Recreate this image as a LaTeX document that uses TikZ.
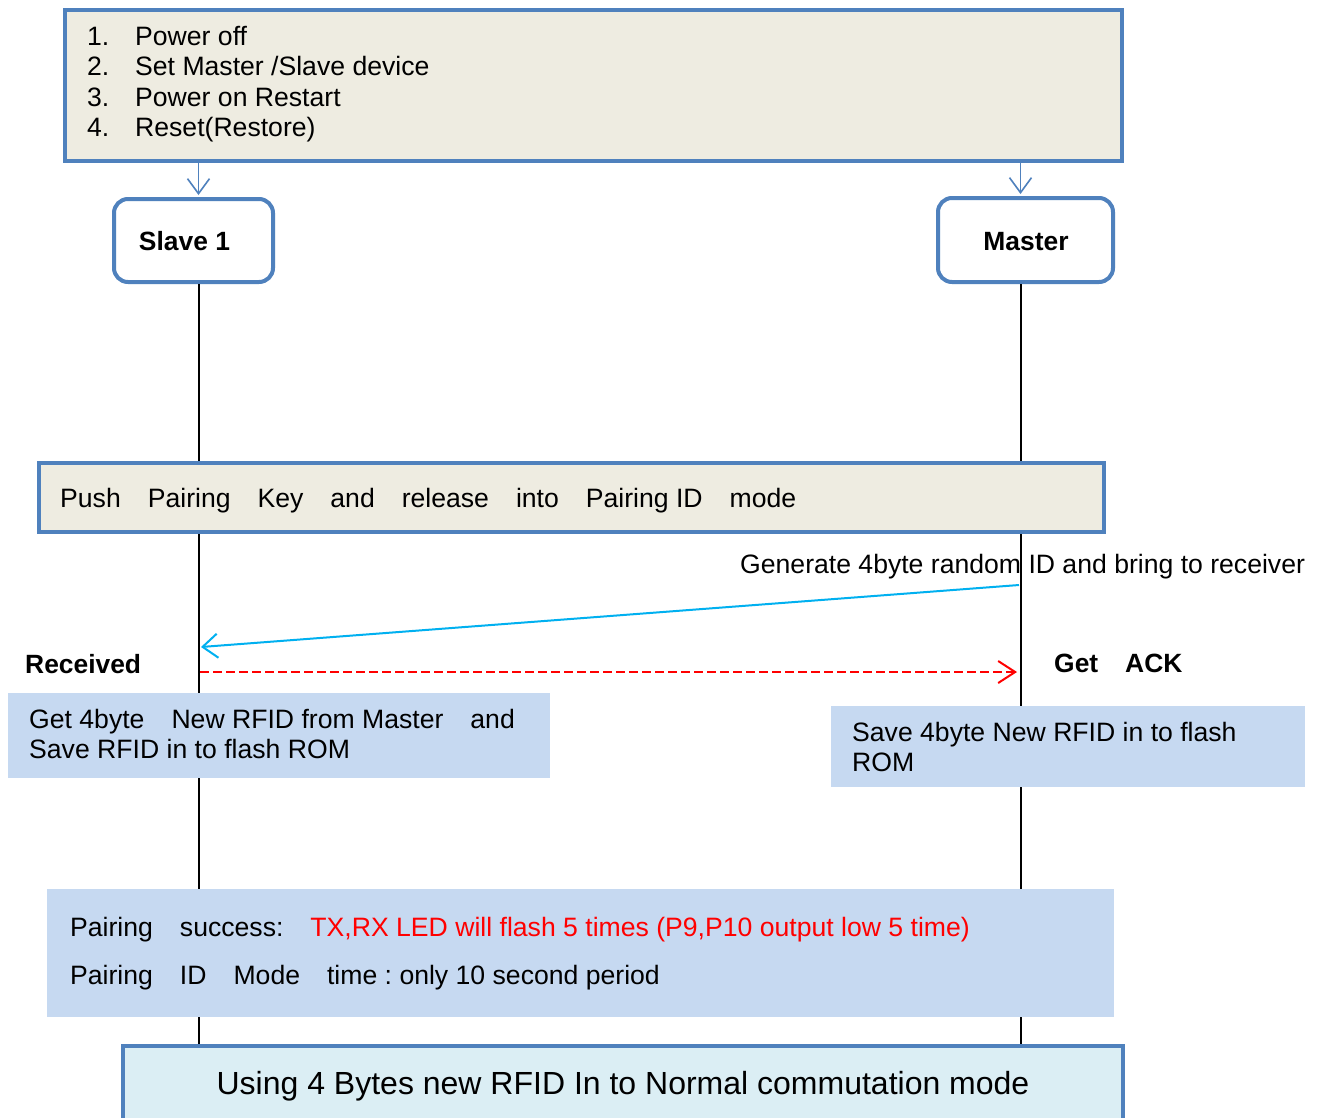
\documentclass[tikz,border=0pt]{standalone}
\usepackage{fontspec}
\setmainfont{Liberation Sans}
\usetikzlibrary{arrows.meta}
\definecolor{bord}{HTML}{4F81BD}
\definecolor{beige}{HTML}{EEECE1}
\definecolor{lblue}{HTML}{C6D9F1}
\definecolor{aquafill}{HTML}{DBEEF4}
\definecolor{cyanarr}{HTML}{00B0F0}
\newcommand{\wgap}{\hspace{27pt}}
\frenchspacing
\begin{document}
\begin{tikzpicture}[x=1pt,y=-1pt,
  txt/.style={inner sep=0pt, anchor=base west, font=\fontsize{26.6}{30}\selectfont},
  btxt/.style={inner sep=0pt, anchor=base west, font=\fontsize{26.4}{30}\selectfont\bfseries},
  beigebox/.style={draw=bord, fill=beige, line width=4pt, inner sep=0pt},
  rbox/.style={draw=bord, fill=white, line width=4pt, rounded corners=14pt, inner sep=0pt},
  fillbox/.style={fill=lblue, inner sep=0pt},
  lifeline/.style={line width=2pt, black},
  downarr/.style={draw=bord, line width=1.6pt, -{Straight Barb[length=15pt,width=22pt,line width=1.6pt]}},
  msgarr/.style={draw=cyanarr, line width=2pt, -{Straight Barb[length=15pt,width=24pt,line width=2pt]}},
  ackarr/.style={draw=red, line width=2pt, dash pattern=on 9pt off 4pt, -{Straight Barb[length=17pt,width=22pt,line width=2pt]}}
]
\clip (0,0) rectangle (1322,1117);
\fill[white] (0,0) rectangle (1322,1117);

% coordinates for lifelines
\coordinate (sx) at (198.5,0);
\coordinate (mx) at (1020.5,0);

% boxes
\node[beigebox, minimum width=1057pt, minimum height=151pt] (top) at (593.5,85.5) {};
\node[rbox, minimum width=159pt, minimum height=83pt] (slave) at (193.5,240.5) {};
\node[rbox, minimum width=175pt, minimum height=84pt] (master) at (1025.5,240) {};
\node[draw=bord, fill=aquafill, line width=4pt, inner sep=0pt, minimum width=1000pt, minimum height=100pt] (bottom) at (623,1096) {};

% lifelines
\draw[lifeline] (slave.south -| sx) -- (bottom.north -| sx);
\draw[lifeline] (master.south -| mx) -- (bottom.north -| mx);

% top arrows
\draw[downarr, shorten >=2pt] (top.south -| sx) -- (slave.north -| sx);
\draw[downarr, shorten >=2pt] (top.south -| mx) -- (master.north -| mx);

% top list
\node[txt] (l1) at (87,45.3) {\makebox[48pt][l]{1.}Power off};
\node[txt] (l2) at (87,75.8) {\makebox[48pt][l]{2.}Set Master /Slave device};
\node[txt] (l3) at (87,106.3) {\makebox[48pt][l]{3.}Power on Restart};
\node[txt] (l4) at (87,136.8) {\makebox[48pt][l]{4.}Reset(Restore)};

% lifeline headers
\node[btxt, anchor=base] (slavelbl) at (184.5,250.5) {Slave 1};
\node[btxt, anchor=base] (masterlbl) at (1026,250.5) {Master};

% push box
\node[beigebox, minimum width=1065pt, minimum height=69pt] (push) at (571.5,497.5) {};
\node[txt] (pushlbl) at (60,507) {Push\wgap Pairing\wgap Key\wgap and\wgap release\wgap into\wgap Pairing ID\wgap mode};

% generate message
\node[txt] (genlbl) at (740,573.5) {Generate 4byte random ID and bring to receiver};
\coordinate (g1) at (1019,585);
\coordinate (g2) at (201,647);
\draw[msgarr] (g1) -- (g2);

% ack
\node[btxt] (recv) at (25,673.5) {Received};
\coordinate (r1) at (200,672);
\coordinate (r2) at (1017,672);
\draw[ackarr] (r1) -- (r2);
\node[btxt] (getack) at (1054,672.5) {Get\wgap ACK};

% slave save box
\node[fillbox, minimum width=542pt, minimum height=85pt] (slavesave) at (279,735.5) {};
\node[txt] (ss1) at (29,728.5) {Get 4byte\wgap New RFID from Master\wgap and};
\node[txt] (ss2) at (29,758.5) {Save RFID in to flash ROM};

% master save box
\node[fillbox, minimum width=474pt, minimum height=81pt] (mastersave) at (1068,746.5) {};
\node[txt] (ms1) at (852,741.5) {Save 4byte New RFID in to flash};
\node[txt] (ms2) at (852,771.5) {ROM};

% pairing box
\node[fillbox, minimum width=1067pt, minimum height=128pt] (pairing) at (580.5,953) {};
\node[txt] (p1) at (70,936.5) {Pairing\wgap success:\wgap \textcolor{red}{TX,RX LED will flash 5 times (P9,P10 output low 5 time)}};
\node[txt] (p2) at (70,984.5) {Pairing\wgap ID\wgap Mode\wgap time : only 10 second period};

% bottom text
\node[inner sep=0pt, anchor=base, font=\fontsize{32}{36}\selectfont] (bottomlbl) at (623,1094.5) {Using 4 Bytes new RFID In to Normal commutation mode};
\end{tikzpicture}
\end{document}
